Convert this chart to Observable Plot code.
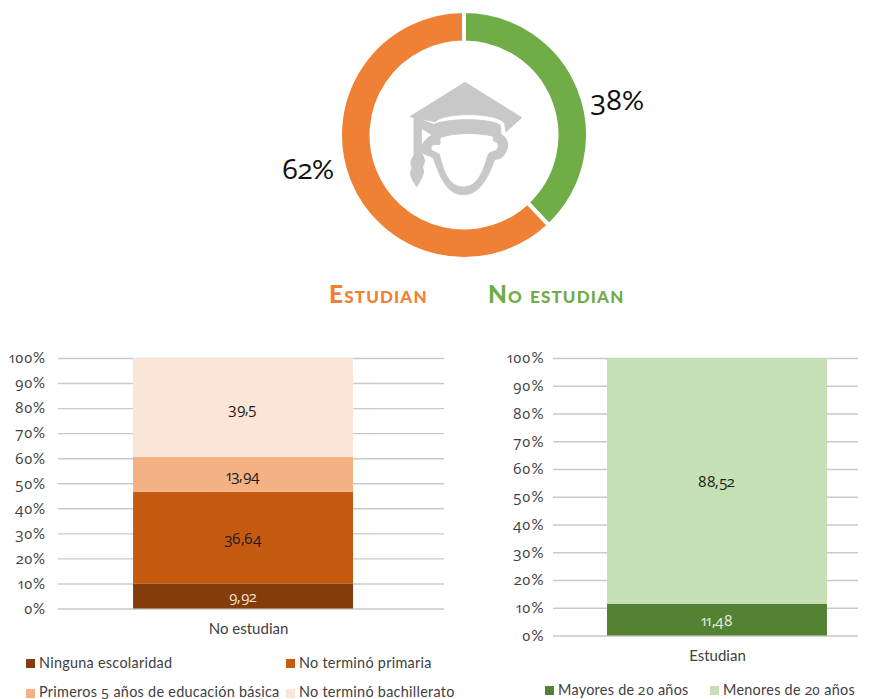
<!DOCTYPE html>
<html><head><meta charset="utf-8">
<script src="https://cdn.jsdelivr.net/npm/d3@7"></script>
<script src="https://cdn.jsdelivr.net/npm/@observablehq/plot@0.6"></script>
<style>
@font-face{font-family:"Digits";src:local("Open Sans"),local("OpenSans-Regular"),local("Open Sans Regular");unicode-range:U+2C,U+30-39}
html,body{margin:0;padding:0;background:#fff}
#page{position:relative;width:873px;height:699px;overflow:hidden;font-family:Digits,Lato,sans-serif;font-variant-numeric:oldstyle-nums}
#page>svg,#page>div{position:absolute}
.head{font-family:Lato,sans-serif;font-weight:900;font-variant:small-caps;font-size:24.5px;letter-spacing:1.15px;line-height:28px;white-space:nowrap}
.leg{font-size:14.4px;color:#404040;line-height:14px;white-space:nowrap;letter-spacing:.28px}
.leg i{position:absolute;width:9px;height:9px;left:-13px}
.vals text{letter-spacing:-.6px}
</style></head><body><div id="page"></div>
<script>
const sliceNames=["No estudian","Estudian"];
const sliceValues=[38,62];
const sliceColors=["#70ad47","#f08034"];
const leftCategory="No estudian";
const leftNames=["Ninguna escolaridad","No terminó primaria","Primeros 5 años de educación básica","No terminó bachillerato"];
const leftValues=[9.92,36.64,13.94,39.5];
const leftColors=["#843c0c","#c55a11","#f4b183","#fbe5d6"];
const leftTextColors=["#f4e0d0","#1a1a1a","#1a1a1a","#1a1a1a"];
const rightCategory="Estudian";
const rightNames=["Mayores de 20 años","Menores de 20 años"];
const rightValues=[11.48,88.52];
const rightColors=["#548235","#c5e0b4"];
const rightTextColors=["#e8f0e0","#1a1a1a"];
const yTicks=[0,10,20,30,40,50,60,70,80,90,100];
const page=document.getElementById("page");
const FONT="Digits, Lato, sans-serif";

function place(el,left,top){el.style.left=left+"px";el.style.top=top+"px";page.appendChild(el);}

const donutRows=sliceNames.map((name,i)=>({name,value:sliceValues[i]}));
const SIZE=260,OUTER=124,INNER=92.5;
const donut=Plot.plot({
  width:SIZE,height:SIZE,margin:0,
  x:{domain:[0,100],range:[0,2*Math.PI],axis:null},
  y:{axis:null},
  color:{domain:sliceNames,range:sliceColors},
  marks:[Plot.barX(donutRows,Plot.stackX({x:"value",fill:"name",inset:0,
    render(index,scales,values){
      const out=d3.create("svg:g").attr("transform",`translate(${SIZE/2},${SIZE/2})`);
      const arc=d3.arc().innerRadius(INNER).outerRadius(OUTER);
      for(const i of index){
        out.append("path")
          .attr("d",arc({startAngle:values.x1[i],endAngle:values.x2[i]}))
          .attr("fill",values.fill[i])
          .attr("stroke","#fff").attr("stroke-width",4);
      }
      return out.node();
    }
  }))]
});
place(donut,464-SIZE/2,135-SIZE/2);

const iconNS="http://www.w3.org/2000/svg";
const icon=document.createElementNS(iconNS,"svg");
icon.setAttribute("viewBox","0 0 390 375");icon.setAttribute("width",130);icon.setAttribute("height",125);
icon.innerHTML=`<g fill="#c8c8c8" fill-rule="evenodd" stroke="#c8c8c8" stroke-width="3" stroke-linejoin="round">
<path d="M195 22 L365 128 L318 170 L314 145 C290 110 130 112 105 140 L30 125 Z"/>
<path d="M40 125 L100 148 L100 182 L64 160 Z"/>
<path d="M98 150 C140 128 270 130 300 150 L303 178 C325 190 330 215 312 240 C300 255 290 250 283 255 C265 305 240 359 190 359 C140 359 120 305 100 250 C90 240 70 240 65 230 L66 210 C75 195 85 185 98 180 Z M120 188 C160 172 240 172 280 184 L280 198 C295 200 300 215 290 225 C280 232 270 230 265 238 C250 285 235 336 190 336 C145 336 130 285 118 238 C110 232 95 230 93 220 C90 208 105 208 120 208 Z"/>
<path d="M42 125 L64 135 L64 232 C70 245 77 255 72 266 C68 272 66 276 70 285 C74 295 60 320 50 335 C42 322 30 305 32 292 C33 285 38 282 35 275 C28 262 38 250 42 238 Z"/>
</g>`;
place(icon,400,75);

function pct(text,cx,cy){const d=document.createElement("div");d.textContent=text;d.style.cssText="font-size:27.5px;color:#111;line-height:32px;width:80px;text-align:center;";place(d,cx-40,cy-16);}
pct(sliceValues[1]+"%",308,168.5);
pct(sliceValues[0]+"%",617,100);

function head(text,color,left){const d=document.createElement("div");d.className="head";d.textContent=text;d.style.color=color;place(d,left,280);}
head(sliceNames[1],sliceColors[1],329);
head(sliceNames[0],sliceColors[0],488);

function stacked(category,names,vals,colors,textColors,opt){
  const rows=names.map((name,i)=>({category,name,value:vals[i],label:String(vals[i]).replace(".",","),tc:textColors[i]}));
  return Plot.plot({
    width:opt.width,height:opt.height,marginLeft:opt.ml,marginRight:opt.mr,marginTop:opt.mt,marginBottom:opt.mb,
    style:{fontFamily:FONT,fontVariantNumeric:"oldstyle-nums",background:"transparent",overflow:"visible"},
    x:{domain:[category],padding:opt.padding,align:opt.align,round:false,label:null},
    y:{domain:[0,100],label:null},
    color:{domain:names,range:colors},
    marks:[
      Plot.gridY(yTicks,{stroke:"#c9c9c9",strokeOpacity:1,strokeWidth:1.4}),
      Plot.barY(rows,Plot.stackY({x:"category",y:"value",fill:"name",order:null})),
      Plot.text(rows,Plot.stackY({x:"category",y:"value",z:"name",text:"label",fill:"tc",fontSize:14.5,dx:-1,dy:1,fontVariant:"oldstyle-nums",className:"vals",order:null})),
      Plot.axisY(yTicks,{tickSize:0,tickPadding:0,dx:opt.tdx,tickFormat:d=>d+"%",fontSize:15,fontVariant:"oldstyle-nums",fill:"#404040",anchor:"left",label:null}),
      Plot.axisX({tickSize:0,tickPadding:opt.tp,dx:opt.cdx,fontSize:15,fill:"#404040",label:null})
    ]
  });
}
place(stacked(leftCategory,leftNames,leftValues,leftColors,leftTextColors,
  {width:460,height:300,ml:58,mr:16,mt:18,mb:31.5,padding:.274,align:.452,tp:14,tdx:-13.5,cdx:5}),0,340);
place(stacked(rightCategory,rightNames,rightValues,rightColors,rightTextColors,
  {width:373,height:327,ml:53,mr:15,mt:18,mb:31.5,padding:.162,align:.635,tp:14,tdx:-10,cdx:0}),500,340);

function legend(name,color,left,top,swatchTop){const d=document.createElement("div");d.className="leg";d.innerHTML=`<i style="background:${color};top:${swatchTop}px"></i>`;d.appendChild(document.createTextNode(name));place(d,left,top);}
legend(leftNames[0],leftColors[0],39,656,3);
legend(leftNames[1],leftColors[1],299,656,3);
legend(leftNames[2],leftColors[2],39,685,4);
legend(leftNames[3],leftColors[3],299,685,4);
legend(rightNames[0],rightColors[0],558,683,3);
legend(rightNames[1],rightColors[1],723,683,3);
</script></body></html>
